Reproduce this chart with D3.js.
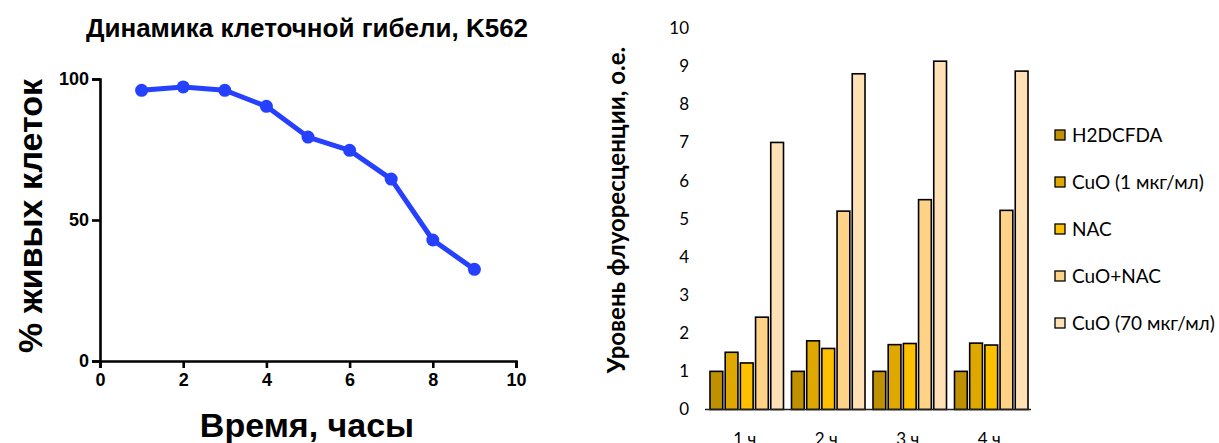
<!DOCTYPE html>
<html lang="ru">
<head>
<meta charset="UTF-8">
<title>K562</title>
<style>
  body { margin: 0; background: #fff; }
  svg { display: block; }
</style>
</head>
<body>
<div id="chart"></div>
<script src="https://d3js.org/d3.v7.min.js"></script>
<script>
// left chart: survival over time
const hours = [1, 2, 3, 4, 5, 6, 7, 8, 9];
const alive = [96.0, 97.2, 96.0, 90.3, 79.4, 74.7, 64.5, 42.9, 32.5];
const xTicks = [0, 2, 4, 6, 8, 10];
const yTicks = [0, 50, 100];

// right chart: fluorescence
const timepoints = ["1 ч", "2 ч", "3 ч", "4 ч"];
const seriesNames = ["H2DCFDA", "CuO (1 мкг/мл)", "NAC", "CuO+NAC", "CuO (70 мкг/мл)"];
const seriesColors = ["#BF9000", "#DFA800", "#FFC000", "#FFD387", "#FFE1B5"];
const h2dcfda = [1.0, 1.0, 1.0, 1.0];
const cuo1 = [1.5, 1.8, 1.7, 1.74];
const nac = [1.22, 1.6, 1.73, 1.69];
const cuoNac = [2.42, 5.2, 5.5, 5.22];
const cuo70 = [7.0, 8.8, 9.13, 8.87];
const barTicks = d3.range(0, 11);

const width = 1219, height = 443;
const svg = d3.select("#chart").append("svg")
  .attr("width", width)
  .attr("height", height);

const arial = "Liberation Sans, Arial, sans-serif";
const calibri = "Lato, Open Sans, sans-serif";

// ---------- line chart ----------
const x = d3.scaleLinear().domain([0, 10]).range([100, 516]);
const y = d3.scaleLinear().domain([0, 100]).range([361, 79]);

const left = svg.append("g");

left.append("g")
  .attr("transform", `translate(0,${y(0)})`)
  .call(d3.axisBottom(x).tickValues(xTicks).tickSize(7).tickPadding(5))
  .call(g => g.select(".domain").attr("stroke-width", 2.6))
  .call(g => g.selectAll(".tick line").attr("stroke-width", 2.6))
  .call(g => g.selectAll("text")
    .style("font-family", arial)
    .style("font-weight", "bold")
    .style("font-size", "18px")
    .attr("fill", "#000"));

left.append("g")
  .attr("transform", `translate(${x(0)},0)`)
  .call(d3.axisLeft(y).tickValues(yTicks).tickSize(8).tickPadding(3))
  .call(g => g.select(".domain").attr("stroke-width", 2.6))
  .call(g => g.selectAll(".tick line").attr("stroke-width", 2.6))
  .call(g => g.selectAll("text")
    .style("font-family", arial)
    .style("font-weight", "bold")
    .style("font-size", "18px")
    .attr("fill", "#000"));

const pts = hours.map((h, i) => [h, alive[i]]);

left.append("path")
  .datum(pts)
  .attr("fill", "none")
  .attr("stroke", "#2541FF")
  .attr("stroke-width", 5)
  .attr("stroke-linejoin", "round")
  .attr("d", d3.line().x(d => x(d[0])).y(d => y(d[1])));

left.append("g")
  .selectAll("circle")
  .data(pts)
  .join("circle")
  .attr("cx", d => x(d[0]))
  .attr("cy", d => y(d[1]))
  .attr("r", 6.5)
  .attr("fill", "#2541FF");

left.append("text")
  .attr("x", 307)
  .attr("y", 37)
  .attr("text-anchor", "middle")
  .style("font-family", arial)
  .style("font-weight", "bold")
  .style("font-size", "26px")
  .text("Динамика клеточной гибели, K562");

left.append("text")
  .attr("transform", "translate(42,216) rotate(-90)")
  .attr("text-anchor", "middle")
  .style("font-family", arial)
  .style("font-weight", "bold")
  .style("font-size", "34px")
  .text("% живых клеток");

left.append("text")
  .attr("x", 307)
  .attr("y", 437)
  .attr("text-anchor", "middle")
  .style("font-family", arial)
  .style("font-weight", "bold")
  .style("font-size", "34px")
  .text("Время, часы");

// ---------- bar chart ----------
const values = [h2dcfda, cuo1, nac, cuoNac, cuo70];
const x0 = d3.scaleBand().domain(timepoints).range([705, 1031]).paddingInner(0).paddingOuter(0);
const x1 = d3.scaleBand().domain(d3.range(seriesNames.length))
  .range([5, x0.bandwidth() - 3]).paddingInner(0.16).paddingOuter(0);
const yb = d3.scaleLinear().domain([0, 10]).range([409.5, 28]);

const right = svg.append("g");

right.append("g")
  .attr("transform", `translate(689,0)`)
  .call(d3.axisLeft(yb).tickValues(barTicks).tickSize(0).tickPadding(0))
  .call(g => g.select(".domain").remove())
  .call(g => g.selectAll("text")
    .style("font-family", calibri)
    .style("font-size", "17px")
    .attr("fill", "#000"));

const groups = right.append("g")
  .selectAll("g")
  .data(timepoints)
  .join("g")
  .attr("transform", d => `translate(${x0(d)},0)`);

groups.selectAll("rect")
  .data((d, i) => values.map((s, k) => ({ k, v: s[i] })))
  .join("rect")
  .attr("x", d => x1(d.k))
  .attr("y", d => yb(d.v))
  .attr("width", x1.bandwidth())
  .attr("height", d => yb(0) - yb(d.v))
  .attr("fill", d => seriesColors[d.k])
  .attr("stroke", "#000")
  .attr("stroke-width", 1.6);

right.append("line")
  .attr("x1", 705).attr("x2", 1031)
  .attr("y1", yb(0)).attr("y2", yb(0))
  .attr("stroke", "#222")
  .attr("stroke-width", 1.5);

right.append("g")
  .selectAll("text")
  .data(timepoints)
  .join("text")
  .attr("x", d => x0(d) + x0.bandwidth() / 2 - 1)
  .attr("y", 445)
  .attr("text-anchor", "middle")
  .style("font-family", calibri)
  .style("font-size", "17px")
  .text(d => d);

right.append("text")
  .attr("transform", "translate(625,210) rotate(-90)")
  .attr("text-anchor", "middle")
  .style("font-family", calibri)
  .style("font-weight", "bold")
  .style("font-size", "24px")
  .text("Уровень флуоресценции, о.е.");

const legend = right.append("g")
  .selectAll("g")
  .data(seriesNames)
  .join("g")
  .attr("transform", (d, i) => `translate(1055,${135 + i * 47})`);

legend.append("rect")
  .attr("x", 0).attr("y", -5)
  .attr("width", 10).attr("height", 10)
  .attr("fill", (d, i) => seriesColors[i])
  .attr("stroke", "#000")
  .attr("stroke-width", 1.3);

legend.append("text")
  .attr("x", 17)
  .attr("y", 6.5)
  .style("font-family", calibri)
  .style("font-size", "19px")
  .text(d => d);
</script>
</body>
</html>
